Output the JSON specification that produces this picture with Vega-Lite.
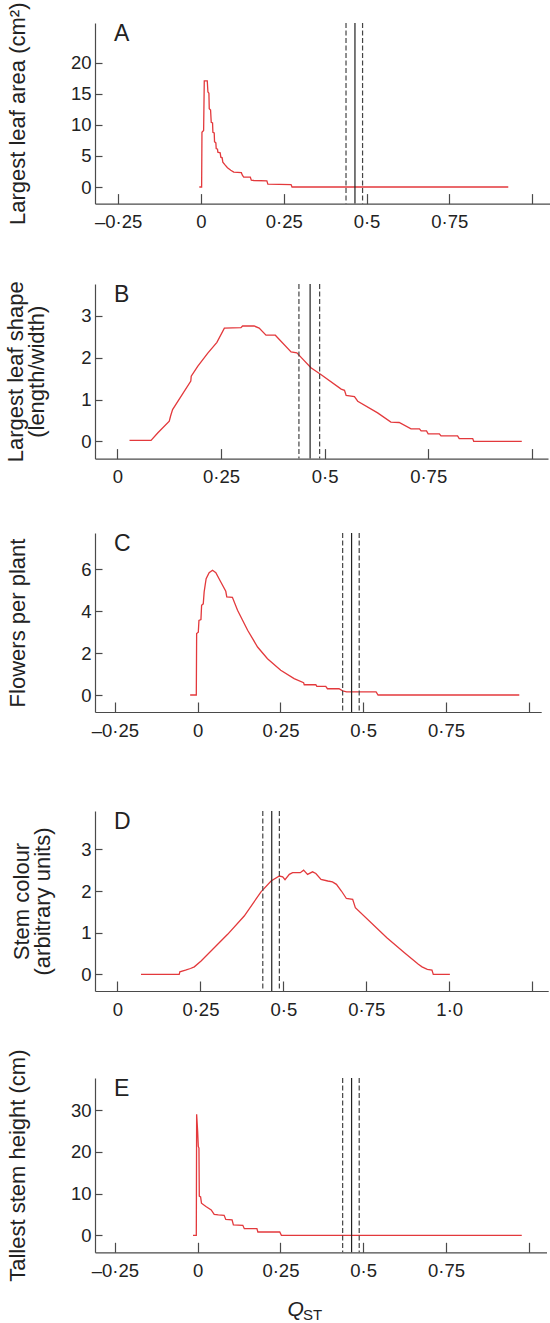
{
  "$schema": "https://vega.github.io/schema/vega-lite/v6.json",
  "background": "white",
  "autosize": {"type": "pad"},
  "padding": {"left": 4, "top": 2, "right": 0, "bottom": 0},
  "bounds": "flush",
  "spacing": 0,
  "config": {
    "view": {"stroke": null},
    "font": "Liberation Sans",
    "axis": {
      "grid": false,
      "domainColor": "#4a4a4a",
      "tickColor": "#4a4a4a",
      "domainWidth": 1.2,
      "tickWidth": 1.2,
      "labelColor": "#222222",
      "titleColor": "#222222",
      "labelFont": "Liberation Sans",
      "titleFont": "Liberation Sans",
      "labelFontSize": 18.5,
      "titleFontSize": 22,
      "titleFontWeight": "normal",
      "labelOverlap": false,
      "labelFlush": false
    },
    "axisX": {"tickSize": -10, "labelPadding": 19},
    "axisY": {"tickSize": -7, "labelPadding": 11}
  },
  "datasets": {
    "A": [{"q":-0.005,"v":0},{"q":0.002,"v":0},{"q":0.003,"v":8.8},{"q":0.008,"v":9.1},{"q":0.010,"v":17.1},{"q":0.019,"v":17.1},{"q":0.021,"v":15.3},{"q":0.024,"v":15.1},{"q":0.025,"v":12.6},{"q":0.029,"v":12.4},{"q":0.031,"v":10.4},{"q":0.035,"v":10.3},{"q":0.036,"v":8.8},{"q":0.040,"v":8.7},{"q":0.041,"v":7.3},{"q":0.045,"v":7.1},{"q":0.046,"v":6.2},{"q":0.050,"v":6.1},{"q":0.051,"v":5.6},{"q":0.058,"v":5.5},{"q":0.060,"v":4.8},{"q":0.064,"v":4.7},{"q":0.066,"v":4.0},{"q":0.072,"v":3.6},{"q":0.080,"v":3.1},{"q":0.090,"v":2.7},{"q":0.099,"v":2.4},{"q":0.122,"v":2.3},{"q":0.125,"v":1.9},{"q":0.129,"v":1.6},{"q":0.149,"v":1.6},{"q":0.152,"v":1.1},{"q":0.160,"v":1.05},{"q":0.199,"v":1.0},{"q":0.202,"v":0.45},{"q":0.272,"v":0.4},{"q":0.275,"v":0},{"q":0.928,"v":0}],
    "B": [{"q":0.029,"v":0.02},{"q":0.081,"v":0.02},{"q":0.097,"v":0.2},{"q":0.125,"v":0.48},{"q":0.128,"v":0.6},{"q":0.133,"v":0.76},{"q":0.177,"v":1.44},{"q":0.178,"v":1.56},{"q":0.194,"v":1.8},{"q":0.218,"v":2.11},{"q":0.240,"v":2.37},{"q":0.258,"v":2.71},{"q":0.298,"v":2.72},{"q":0.302,"v":2.76},{"q":0.330,"v":2.76},{"q":0.342,"v":2.71},{"q":0.3585,"v":2.54},{"q":0.381,"v":2.54},{"q":0.419,"v":2.14},{"q":0.433,"v":2.12},{"q":0.445,"v":1.99},{"q":0.467,"v":1.76},{"q":0.491,"v":1.6},{"q":0.540,"v":1.25},{"q":0.548,"v":1.22},{"q":0.552,"v":1.1},{"q":0.572,"v":1.07},{"q":0.580,"v":0.96},{"q":0.628,"v":0.68},{"q":0.660,"v":0.46},{"q":0.680,"v":0.45},{"q":0.7086,"v":0.30},{"q":0.729,"v":0.30},{"q":0.733,"v":0.25},{"q":0.746,"v":0.25},{"q":0.750,"v":0.18},{"q":0.777,"v":0.18},{"q":0.781,"v":0.13},{"q":0.821,"v":0.13},{"q":0.825,"v":0.065},{"q":0.8575,"v":0.065},{"q":0.860,"v":0},{"q":0.976,"v":0}],
    "C": [{"q":-0.0226,"v":0},{"q":-0.004,"v":0},{"q":-0.003,"v":2.93},{"q":0.002,"v":3.0},{"q":0.004,"v":3.56},{"q":0.010,"v":3.6},{"q":0.012,"v":4.28},{"q":0.017,"v":4.35},{"q":0.0197,"v":4.92},{"q":0.0227,"v":5.24},{"q":0.0257,"v":5.55},{"q":0.0347,"v":5.84},{"q":0.045,"v":5.95},{"q":0.055,"v":5.84},{"q":0.070,"v":5.39},{"q":0.085,"v":4.95},{"q":0.088,"v":4.68},{"q":0.105,"v":4.66},{"q":0.1205,"v":4.04},{"q":0.151,"v":3.09},{"q":0.181,"v":2.29},{"q":0.211,"v":1.73},{"q":0.251,"v":1.18},{"q":0.2915,"v":0.78},{"q":0.320,"v":0.59},{"q":0.322,"v":0.49},{"q":0.357,"v":0.49},{"q":0.360,"v":0.41},{"q":0.387,"v":0.41},{"q":0.392,"v":0.30},{"q":0.427,"v":0.30},{"q":0.438,"v":0.2},{"q":0.450,"v":0.15},{"q":0.539,"v":0.15},{"q":0.545,"v":0},{"q":0.9715,"v":0}],
    "D": [{"q":0.0708,"v":0},{"q":0.186,"v":0},{"q":0.188,"v":0.06},{"q":0.205,"v":0.1},{"q":0.220,"v":0.14},{"q":0.2316,"v":0.18},{"q":0.252,"v":0.32},{"q":0.332,"v":0.96},{"q":0.382,"v":1.40},{"q":0.4326,"v":1.98},{"q":0.463,"v":2.24},{"q":0.488,"v":2.36},{"q":0.498,"v":2.34},{"q":0.505,"v":2.27},{"q":0.518,"v":2.40},{"q":0.528,"v":2.44},{"q":0.551,"v":2.44},{"q":0.561,"v":2.50},{"q":0.573,"v":2.40},{"q":0.588,"v":2.46},{"q":0.598,"v":2.42},{"q":0.6135,"v":2.28},{"q":0.634,"v":2.24},{"q":0.648,"v":2.22},{"q":0.660,"v":2.16},{"q":0.675,"v":2.0},{"q":0.690,"v":1.82},{"q":0.709,"v":1.80},{"q":0.717,"v":1.6},{"q":0.812,"v":0.88},{"q":0.865,"v":0.52},{"q":0.907,"v":0.24},{"q":0.918,"v":0.18},{"q":0.934,"v":0.12},{"q":0.948,"v":0.1},{"q":0.952,"v":0},{"q":1.002,"v":0}],
    "E": [{"q":-0.014,"v":0},{"q":-0.004,"v":0},{"q":-0.003,"v":29.0},{"q":0.000,"v":25},{"q":0.002,"v":21.3},{"q":0.004,"v":20.9},{"q":0.005,"v":9.4},{"q":0.009,"v":9.2},{"q":0.0116,"v":7.7},{"q":0.025,"v":6.9},{"q":0.041,"v":6.1},{"q":0.050,"v":5.0},{"q":0.0625,"v":4.9},{"q":0.080,"v":4.8},{"q":0.085,"v":3.8},{"q":0.104,"v":3.7},{"q":0.108,"v":2.5},{"q":0.1365,"v":2.4},{"q":0.141,"v":1.6},{"q":0.179,"v":1.6},{"q":0.182,"v":0.8},{"q":0.248,"v":0.8},{"q":0.253,"v":0},{"q":0.979,"v":0}],
    "rules": [{"q":0.438,"kind":"ci"},{"q":0.465,"kind":"mean"},{"q":0.488,"kind":"ci"}]
  },
  "vconcat": [
    {
      "width": 455, "height": 180.6,
      "layer": [
        {"data": {"name": "A"}, "mark": {"type": "line", "color": "#e3393c", "strokeWidth": 1.3},
         "encoding": {
           "x": {"field": "q", "type": "quantitative", "scale": {"domain": [-0.32, 1.054], "nice": false, "zero": false},
                 "axis": {"title": null, "values": [-0.25, 0, 0.25, 0.5, 0.75, 1], "labelExpr": "datum.value == 1 ? '' : datum.value < 0 ? '–0·25' : replace(format(datum.value, '.2~f'), '.', '·')"}},
           "y": {"field": "v", "type": "quantitative", "scale": {"domain": [-2.67, 26.4], "nice": false, "zero": false},
                 "axis": {"title": "Largest leaf area (cm²)", "values": [0, 5, 10, 15, 20], "format": "d", "titleX": -66}}
         }},
        {"data": {"name": "rules"}, "mark": {"type": "rule", "strokeWidth": 1.2},
         "encoding": {
           "x": {"field": "q", "type": "quantitative"},
           "strokeDash": {"field": "kind", "type": "nominal", "scale": {"domain": ["ci", "mean"], "range": [[5, 2.5], [1, 0]]}, "legend": null},
           "color": {"field": "kind", "type": "nominal", "scale": {"domain": ["ci", "mean"], "range": ["#444444", "#222222"]}, "legend": null}
         }},
        {"data": {"values": [{"t": "A"}]}, "mark": {"type": "text", "align": "left", "baseline": "top", "fontSize": 23, "color": "#222222"},
         "encoding": {"x": {"datum": -0.2626, "type": "quantitative"}, "y": {"datum": 26.4, "type": "quantitative"}, "text": {"field": "t"}}}
      ]
    },
    {"width": 10, "height": 79.4, "data": {"values": []}, "mark": "point"},
    {
      "width": 453, "height": 174.6,
      "layer": [
        {"data": {"name": "B"}, "mark": {"type": "line", "color": "#e3393c", "strokeWidth": 1.3},
         "encoding": {
           "x": {"field": "q", "type": "quantitative", "scale": {"domain": [-0.0543, 1.0393], "nice": false, "zero": false},
                 "axis": {"title": null, "values": [0, 0.25, 0.5, 0.75, 1], "labelExpr": "datum.value == 1 ? '' : replace(format(datum.value, '.2~f'), '.', '·')"}},
           "y": {"field": "v", "type": "quantitative", "scale": {"domain": [-0.414, 3.766], "nice": false, "zero": false},
                 "axis": {"title": ["Largest leaf shape", "(length/width)"], "values": [0, 1, 2, 3], "format": "d", "titleX": -67.7, "titleLineHeight": 21.5}}
         }},
        {"data": {"name": "rules"}, "mark": {"type": "rule", "strokeWidth": 1.2},
         "encoding": {
           "x": {"field": "q", "type": "quantitative"},
           "strokeDash": {"field": "kind", "type": "nominal", "scale": {"domain": ["ci", "mean"], "range": [[5, 2.5], [1, 0]]}, "legend": null},
           "color": {"field": "kind", "type": "nominal", "scale": {"domain": ["ci", "mean"], "range": ["#444444", "#222222"]}, "legend": null}
         }},
        {"data": {"values": [{"t": "B"}]}, "mark": {"type": "text", "align": "left", "baseline": "top", "fontSize": 23, "color": "#222222"},
         "encoding": {"x": {"datum": -0.0084, "type": "quantitative"}, "y": {"datum": 3.766, "type": "quantitative"}, "text": {"field": "t"}}}
      ]
    },
    {"width": 10, "height": 73.7, "data": {"values": []}, "mark": "point"},
    {
      "width": 446.2, "height": 179,
      "layer": [
        {"data": {"name": "C"}, "mark": {"type": "line", "color": "#e3393c", "strokeWidth": 1.3},
         "encoding": {
           "x": {"field": "q", "type": "quantitative", "scale": {"domain": [-0.31, 1.0377], "nice": false, "zero": false},
                 "axis": {"title": null, "values": [-0.25, 0, 0.25, 0.5, 0.75, 1], "labelExpr": "datum.value == 1 ? '' : datum.value < 0 ? '–0·25' : replace(format(datum.value, '.2~f'), '.', '·')"}},
           "y": {"field": "v", "type": "quantitative", "scale": {"domain": [-0.81, 7.73], "nice": false, "zero": false},
                 "axis": {"title": "Flowers per plant", "values": [0, 2, 4, 6], "format": "d", "titleX": -66}}
         }},
        {"data": {"name": "rules"}, "mark": {"type": "rule", "strokeWidth": 1.2},
         "encoding": {
           "x": {"field": "q", "type": "quantitative"},
           "strokeDash": {"field": "kind", "type": "nominal", "scale": {"domain": ["ci", "mean"], "range": [[5, 2.5], [1, 0]]}, "legend": null},
           "color": {"field": "kind", "type": "nominal", "scale": {"domain": ["ci", "mean"], "range": ["#444444", "#222222"]}, "legend": null}
         }},
        {"data": {"values": [{"t": "C"}]}, "mark": {"type": "text", "align": "left", "baseline": "top", "fontSize": 23, "color": "#222222"},
         "encoding": {"x": {"datum": -0.2526, "type": "quantitative"}, "y": {"datum": 7.73, "type": "quantitative"}, "text": {"field": "t"}}}
      ]
    },
    {"width": 10, "height": 98.3, "data": {"values": []}, "mark": "point"},
    {
      "width": 453.2, "height": 180,
      "layer": [
        {"data": {"name": "D"}, "mark": {"type": "line", "color": "#e3393c", "strokeWidth": 1.3},
         "encoding": {
           "x": {"field": "q", "type": "quantitative", "scale": {"domain": [-0.0678, 1.2984], "nice": false, "zero": false},
                 "axis": {"title": null, "values": [0, 0.25, 0.5, 0.75, 1, 1.25], "labelExpr": "datum.value == 1 ? '1·0' : datum.value > 1.2 ? '' : replace(format(datum.value, '.2~f'), '.', '·')"}},
           "y": {"field": "v", "type": "quantitative", "scale": {"domain": [-0.4, 3.92], "nice": false, "zero": false},
                 "axis": {"title": ["Stem colour", "(arbitrary units)"], "values": [0, 1, 2, 3], "format": "d", "titleX": -61.6, "titleLineHeight": 21.5}}
         }},
        {"data": {"name": "rules"}, "mark": {"type": "rule", "strokeWidth": 1.2},
         "encoding": {
           "x": {"field": "q", "type": "quantitative"},
           "strokeDash": {"field": "kind", "type": "nominal", "scale": {"domain": ["ci", "mean"], "range": [[5, 2.5], [1, 0]]}, "legend": null},
           "color": {"field": "kind", "type": "nominal", "scale": {"domain": ["ci", "mean"], "range": ["#444444", "#222222"]}, "legend": null}
         }},
        {"data": {"values": [{"t": "D"}]}, "mark": {"type": "text", "align": "left", "baseline": "top", "fontSize": 23, "color": "#222222"},
         "encoding": {"x": {"datum": -0.0105, "type": "quantitative"}, "y": {"datum": 3.92, "type": "quantitative"}, "text": {"field": "t"}}}
      ]
    },
    {"width": 10, "height": 86.7, "data": {"values": []}, "mark": "point"},
    {
      "width": 451.5, "height": 174.3,
      "title": {"text": "ST", "orient": "bottom", "anchor": "start", "frame": "group", "baseline": "top", "dx": 208, "offset": -11.5, "fontSize": 15, "fontWeight": "normal", "font": "Liberation Sans", "color": "#222222"},
      "layer": [
        {"data": {"name": "E"}, "mark": {"type": "line", "color": "#e3393c", "strokeWidth": 1.3},
         "encoding": {
           "x": {"field": "q", "type": "quantitative", "scale": {"domain": [-0.31, 1.0537], "nice": false, "zero": false},
                 "axis": {"title": "Q", "titleFontStyle": "italic", "titleFontSize": 21, "titleX": 192, "titleY": 46, "titleAlign": "left", "titleBaseline": "top", "values": [-0.25, 0, 0.25, 0.5, 0.75, 1], "labelExpr": "datum.value == 1 ? '' : datum.value < 0 ? '–0·25' : replace(format(datum.value, '.2~f'), '.', '·')"}},
           "y": {"field": "v", "type": "quantitative", "scale": {"domain": [-4.07, 37.7], "nice": false, "zero": false},
                 "axis": {"title": "Tallest stem height (cm)", "values": [0, 10, 20, 30], "format": "d", "titleX": -66}}
         }},
        {"data": {"name": "rules"}, "mark": {"type": "rule", "strokeWidth": 1.2},
         "encoding": {
           "x": {"field": "q", "type": "quantitative"},
           "strokeDash": {"field": "kind", "type": "nominal", "scale": {"domain": ["ci", "mean"], "range": [[5, 2.5], [1, 0]]}, "legend": null},
           "color": {"field": "kind", "type": "nominal", "scale": {"domain": ["ci", "mean"], "range": ["#444444", "#222222"]}, "legend": null}
         }},
        {"data": {"values": [{"t": "E"}]}, "mark": {"type": "text", "align": "left", "baseline": "top", "fontSize": 23, "color": "#222222"},
         "encoding": {"x": {"datum": -0.2526, "type": "quantitative"}, "y": {"datum": 37.7, "type": "quantitative"}, "text": {"field": "t"}}}
      ]
    }
  ]
}
